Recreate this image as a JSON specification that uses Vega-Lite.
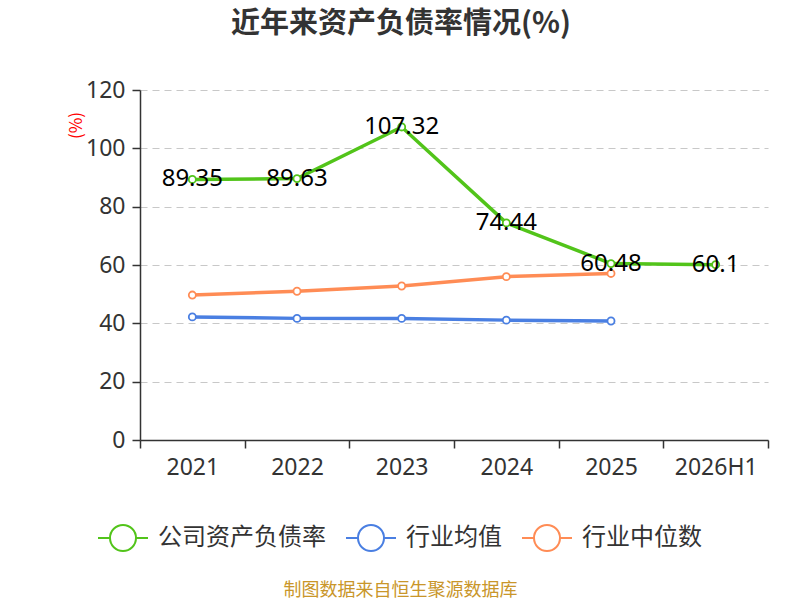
{
  "$schema": "https://vega.github.io/schema/vega-lite/v6.json",
  "autosize": {"type": "none"},
  "width": 628,
  "height": 350,
  "padding": {"left": 140, "top": 90, "right": 32, "bottom": 160},
  "background": "white",
  "title": {
    "text": "近年来资产负债率情况(%)",
    "font": "Noto Sans CJK SC",
    "fontSize": 29,
    "fontWeight": "bold",
    "color": "#333333",
    "anchor": "middle",
    "dx": -53,
    "offset": 40
  },
  "config": {
    "view": {"stroke": null},
    "font": "Noto Sans CJK SC"
  },
  "data": {
    "values": [
      {"year": "2021", "series": "公司资产负债率", "value": 89.35},
      {"year": "2022", "series": "公司资产负债率", "value": 89.63},
      {"year": "2023", "series": "公司资产负债率", "value": 107.32},
      {"year": "2024", "series": "公司资产负债率", "value": 74.44},
      {"year": "2025", "series": "公司资产负债率", "value": 60.48},
      {"year": "2026H1", "series": "公司资产负债率", "value": 60.1},
      {"year": "2021", "series": "行业均值", "value": 42.2},
      {"year": "2022", "series": "行业均值", "value": 41.7},
      {"year": "2023", "series": "行业均值", "value": 41.7},
      {"year": "2024", "series": "行业均值", "value": 41.1},
      {"year": "2025", "series": "行业均值", "value": 40.8},
      {"year": "2021", "series": "行业中位数", "value": 49.7},
      {"year": "2022", "series": "行业中位数", "value": 51.0},
      {"year": "2023", "series": "行业中位数", "value": 52.8},
      {"year": "2024", "series": "行业中位数", "value": 56.0},
      {"year": "2025", "series": "行业中位数", "value": 57.1}
    ]
  },
  "encoding": {
    "x": {
      "field": "year",
      "type": "nominal",
      "sort": ["2021", "2022", "2023", "2024", "2025", "2026H1"],
      "scale": {"type": "band", "paddingInner": 0, "paddingOuter": 0},
      "axis": {
        "title": "制图数据来自恒生聚源数据库",
        "titleColor": "#c9962a",
        "titleFontSize": 18,
        "titleFontWeight": "normal",
        "titleX": 260,
        "titleY": 150,
        "titleBaseline": "middle",
        "titleAlign": "center",
        "labelAngle": 0,
        "labelFontSize": 23,
        "labelFont": "Noto Sans",
        "labelColor": "#333333",
        "labelPadding": 8,
        "domainColor": "#333333",
        "domainWidth": 1.5,
        "tickColor": "#333333",
        "tickWidth": 1.5,
        "tickSize": 8,
        "tickBand": "extent",
        "grid": false
      }
    },
    "y": {
      "field": "value",
      "type": "quantitative",
      "scale": {"domain": [0, 120], "nice": false},
      "axis": {
        "title": "(%)",
        "titleColor": "#ff0000",
        "titleFontSize": 17,
        "titleFontWeight": "normal",
        "titleX": -64,
        "titleY": 35,
        "titleAlign": "center",
        "titleBaseline": "middle",
        "values": [0, 20, 40, 60, 80, 100, 120],
        "labelFontSize": 23,
        "labelFont": "Noto Sans",
        "labelColor": "#333333",
        "labelPadding": 7,
        "domainColor": "#333333",
        "domainWidth": 1.5,
        "tickColor": "#333333",
        "tickWidth": 1.5,
        "tickSize": 8,
        "gridColor": "#c8c8c8",
        "gridDash": [7, 5],
        "gridWidth": 1.2
      }
    }
  },
  "layer": [
    {
      "mark": {
        "type": "line",
        "strokeWidth": 3.5,
        "point": {"filled": false, "fill": "white", "size": 50, "strokeWidth": 1.8}
      },
      "encoding": {
        "x": {"field": "year", "type": "nominal", "sort": ["2021", "2022", "2023", "2024", "2025", "2026H1"], "bandPosition": 0.5},
        "color": {
          "field": "series",
          "type": "nominal",
          "scale": {
            "domain": ["公司资产负债率", "行业均值", "行业中位数"],
            "range": ["#52c41a", "#4a7fe2", "#ff8c55"]
          },
          "legend": {
            "title": null,
            "orient": "none",
            "direction": "horizontal",
            "legendX": -43,
            "legendY": 422,
            "symbolType": "M-1,0L-0.52,0M0.52,0L1,0M0.52,0A0.52,0.52,0,1,1,-0.52,0A0.52,0.52,0,1,1,0.52,0",
            "symbolSize": 2500,
            "symbolStrokeWidth": 2,
            "symbolFillColor": "white",
            "labelFontSize": 24,
            "labelLimit": 400,
            "labelColor": "#333333",
            "labelOffset": 9,
            "columnPadding": 16
          }
        }
      }
    },
    {
      "transform": [{"filter": "datum.series === '公司资产负债率'"}],
      "mark": {"type": "text", "fontSize": 24, "font": "Noto Sans", "color": "#000000", "baseline": "middle", "align": "center"},
      "encoding": {
        "text": {"field": "value", "type": "quantitative"}
      }
    }
  ]
}
